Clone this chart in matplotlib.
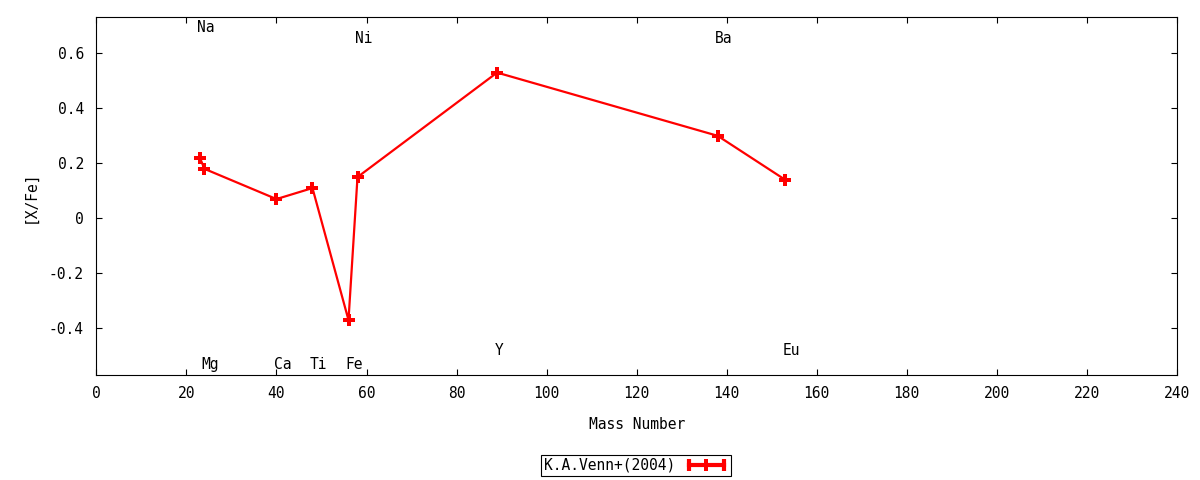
import matplotlib
matplotlib.use("Agg")
import matplotlib.pyplot as plt
from matplotlib.lines import Line2D
from matplotlib.legend_handler import HandlerLine2D, HandlerTuple
from matplotlib.ticker import FuncFormatter

# ---- data ----
elements = ["Na", "Mg", "Ca", "Ti", "Fe", "Ni", "Y", "Ba", "Eu"]
mass_number = [23, 24, 40, 48, 56, 58, 89, 138, 153]
x_fe = [0.22, 0.18, 0.07, 0.11, -0.37, 0.15, 0.53, 0.30, 0.14]
label_y = [0.695, -0.53, -0.53, -0.53, -0.53, 0.655, -0.48, 0.655, -0.48]
series_name = "K.A.Venn+(2004)"
x_ticks = list(range(0, 241, 20))
y_ticks = [-0.4, -0.2, 0, 0.2, 0.4, 0.6]

plt.rcParams['font.family'] = ['DejaVu Sans Mono', 'DejaVu Sans']
FS = 10.5

fig = plt.figure(figsize=(12, 4.8), dpi=100)
ax = fig.add_axes([0.0803, 0.2181, 0.9005, 0.7458])

ax.plot(mass_number, x_fe, color='#ff0000', lw=1.6, marker='P',
        markersize=8.5, markeredgewidth=0)

for el, m, ly in zip(elements, mass_number, label_y):
    ax.annotate(el, (m, ly), xytext=(-2, 0), textcoords='offset points',
                ha='left', va='center', fontsize=FS, color='black')

ax.set_xlim(0, 240)
ax.set_ylim(-0.571, 0.731)
ax.set_xticks(x_ticks)
ax.set_yticks(y_ticks)
ax.yaxis.set_major_formatter(FuncFormatter(lambda v, p: "%g" % round(v, 6)))
ax.tick_params(direction='in', length=4, width=0.8, top=True, right=True,
               labelsize=FS, pad=8)
ax.tick_params(axis='y', pad=9)
for s in ax.spines.values():
    s.set_linewidth(0.8)

ax.set_xlabel("Mass Number", fontsize=FS, labelpad=11.5)
ax.set_ylabel("[X/Fe]", fontsize=FS, labelpad=8)

cap_line = Line2D([], [], color='#ff0000', lw=3, marker='|', markersize=9,
                  markeredgewidth=3)
plus_line = Line2D([], [], color='#ff0000', lw=0, marker='P', markersize=8.5,
                   markeredgewidth=0)
leg = fig.legend([(cap_line, plus_line)], [series_name],
                 handler_map={cap_line: HandlerLine2D(numpoints=2),
                              plus_line: HandlerLine2D(numpoints=1),
                              tuple: HandlerTuple(ndivide=1)},
                 loc='center', bbox_to_anchor=(0.53, 0.031),
                 markerfirst=False, fontsize=FS, handlelength=3.0,
                 fancybox=False, edgecolor='black', framealpha=1,
                 borderpad=0.2, handletextpad=0.6, borderaxespad=0)
leg.get_frame().set_linewidth(0.8)

fig.savefig("out.png", dpi=100)
